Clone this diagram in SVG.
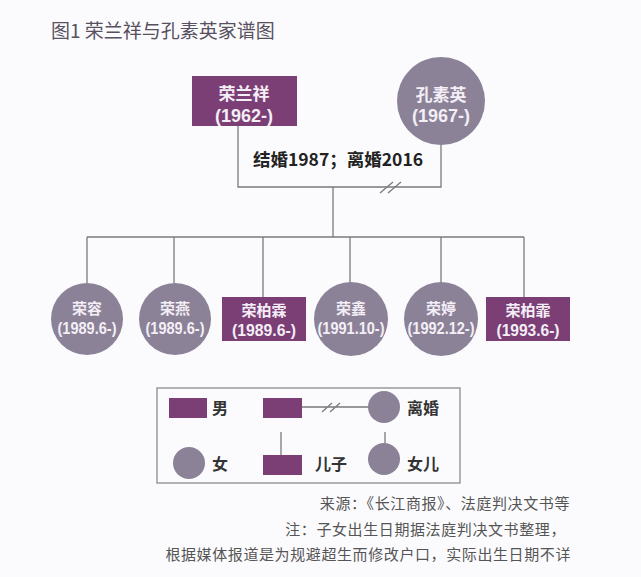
<svg xmlns="http://www.w3.org/2000/svg" width="641" height="577" viewBox="0 0 641 577">
<style>
.bg{fill:#fbfbfd}
.m{fill:#7b3f76}
.f{fill:#8b8298}
.ln{stroke:#7a7a7a;stroke-width:1.3;fill:none}
.nt{font-family:"Liberation Sans","Noto Sans CJK SC",sans-serif;fill:#f4eef6;text-anchor:middle;font-weight:bold}
.t{font-family:"Noto Sans CJK SC",sans-serif;fill:#575060}
.lg{font-family:"Noto Sans CJK SC",sans-serif;fill:#333;font-size:16px;font-weight:bold}
.ft{font-family:"Noto Sans CJK SC",sans-serif;fill:#555;font-size:15px;text-anchor:end;letter-spacing:0.6px}
</style>
<rect class="bg" x="0" y="0" width="641" height="577"/>
<text class="t" x="51" y="38" font-size="19">图1 荣兰祥与孔素英家谱图</text>

<g id="connectors">
  <path class="ln" d="M238,126 V187 H441 V145"/>
  <path class="ln" d="M333,187 V237"/>
  <path class="ln" d="M87,237 H524"/>
  <path class="ln" d="M87,237 V283 M174,237 V283 M263,237 V297 M350,237 V283 M441,237 V283 M524,237 V297"/>
  <path class="ln" d="M380,193 L393,182 M388,193 L401,182"/>
</g>

<g id="father">
  <rect class="m" x="192" y="76" width="105" height="50"/>
  <text class="nt" x="244" y="100" font-size="17">荣兰祥</text>
  <text class="nt" x="244" y="122" font-size="18">(1962-)</text>
</g>
<g id="mother">
  <circle class="f" cx="441" cy="101" r="44"/>
  <text class="nt" x="441" y="101" font-size="17">孔素英</text>
  <text class="nt" x="441" y="122" font-size="18">(1967-)</text>
</g>
<text id="marriage" x="338" y="166" font-family="Noto Sans CJK SC,sans-serif" font-size="17.5" font-weight="bold" fill="#222" text-anchor="middle">结婚1987；离婚2016</text>

<g id="child1">
  <circle class="f" cx="87" cy="319" r="36"/>
  <text class="nt" x="87" y="314" font-size="15">荣容</text>
  <text class="nt" x="87" y="334" font-size="17" textLength="59" lengthAdjust="spacingAndGlyphs">(1989.6-)</text>
</g>
<g id="child2">
  <circle class="f" cx="175" cy="319" r="36"/>
  <text class="nt" x="175" y="314" font-size="15">荣燕</text>
  <text class="nt" x="175" y="334" font-size="17" textLength="59" lengthAdjust="spacingAndGlyphs">(1989.6-)</text>
</g>
<g id="child3">
  <rect class="m" x="222" y="297" width="84" height="44"/>
  <text class="nt" x="264" y="316" font-size="15">荣柏霖</text>
  <text class="nt" x="264" y="336" font-size="16" textLength="64" lengthAdjust="spacingAndGlyphs">(1989.6-)</text>
</g>
<g id="child4">
  <circle class="f" cx="351" cy="319" r="37"/>
  <text class="nt" x="351" y="314" font-size="15">荣鑫</text>
  <text class="nt" x="351" y="334" font-size="17" textLength="67" lengthAdjust="spacingAndGlyphs">(1991.10-)</text>
</g>
<g id="child5">
  <circle class="f" cx="441" cy="319" r="37"/>
  <text class="nt" x="441" y="314" font-size="15">荣婷</text>
  <text class="nt" x="441" y="334" font-size="17" textLength="67" lengthAdjust="spacingAndGlyphs">(1992.12-)</text>
</g>
<g id="child6">
  <rect class="m" x="486" y="297" width="84" height="44"/>
  <text class="nt" x="528" y="316" font-size="15">荣柏霏</text>
  <text class="nt" x="528" y="336" font-size="16" textLength="63" lengthAdjust="spacingAndGlyphs">(1993.6-)</text>
</g>

<g id="legend">
  <rect x="157" y="388" width="303" height="95" fill="none" stroke="#9a9a9a" stroke-width="1.5"/>
  <rect class="m" x="169" y="398" width="38" height="20"/>
  <text class="lg" x="212" y="414">男</text>
  <rect class="m" x="263" y="398" width="39" height="20"/>
  <path class="ln" d="M302,407 H370 M322,412 L332,403 M330,412 L340,403"/>
  <circle class="f" cx="384" cy="407" r="16"/>
  <text class="lg" x="407" y="414">离婚</text>
  <circle class="f" cx="189" cy="463" r="16"/>
  <text class="lg" x="212" y="470">女</text>
  <path class="ln" d="M281,432 V455"/>
  <rect class="m" x="263" y="455" width="39" height="20"/>
  <text class="lg" x="315" y="470">儿子</text>
  <path class="ln" d="M385,432 V443"/>
  <circle class="f" cx="384" cy="459" r="16"/>
  <text class="lg" x="407" y="470">女儿</text>
</g>

<text class="ft" x="570" y="509">来源：《长江商报》、法庭判决文书等</text>
<text class="ft" x="566" y="535">注：子女出生日期据法庭判决文书整理，</text>
<text class="ft" x="571" y="560">根据媒体报道是为规避超生而修改户口，实际出生日期不详</text>
</svg>
